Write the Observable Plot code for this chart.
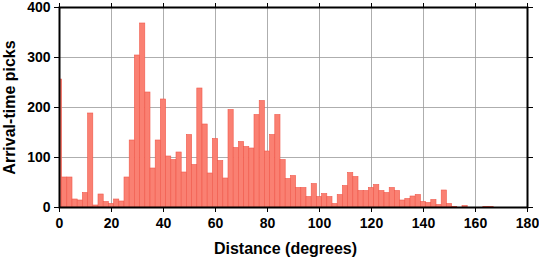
<!DOCTYPE html>
<html>
<head>
<meta charset="utf-8">
<script src="https://cdn.jsdelivr.net/npm/d3@7"></script>
<script src="https://cdn.jsdelivr.net/npm/@observablehq/plot@0.6"></script>
<style>
  html, body { margin: 0; padding: 0; background: #fff; }
</style>
</head>
<body>
<div id="chart"></div>
<script>
// Bin centres (degrees), 2-degree bins
const binCenters = [0,2,4,6,8,10,12,14,16,18,20,22,24,26,28,30,32,34,36,38,40,42,44,46,48,50,52,54,56,58,60,62,64,66,68,70,72,74,76,78,80,82,84,86,88,90,92,94,96,98,100,102,104,106,108,110,112,114,116,118,120,122,124,126,128,130,132,134,136,138,140,142,144,146,148,150,152,154,156,158,160,162,164,166,168,170,172,174,176,178,180];
// Arrival-time pick counts per bin
const pickCounts = [256,60,60,16,14,29,188,4,26,11,7,16,12,60,134,304,368,230,78,134,216,102,95,110,70,145,85,238,166,68,137,93,58,195,119,131,121,118,185,213,112,145,185,95,57,63,39,39,21,47,21,27,21,7,25,43,69,61,33,33,39,45,33,29,39,33,14,17,22,25,11,9,15,5,34,7,1,0,3,0,0,0,1,1,0,0,0,0,0,0,0];
const binWidth = 2;
const xTicks = [0,20,40,60,80,100,120,140,160,180];
const yTicks = [0,100,200,300,400];
const xTitle = "Distance (degrees)";
const yTitle = "Arrival-time picks";

const data = binCenters.map((c, i) => ({c, n: pickCounts[i]}));

const chart = Plot.plot({
  width: 539,
  height: 258,
  marginLeft: 59,
  marginRight: 12,
  marginTop: 7,
  marginBottom: 51,
  style: {fontFamily: "'Liberation Sans', Arial, sans-serif", fontSize: "14px", fontWeight: "bold", background: "#fff", color: "#000"},
  x: {domain: [0, 180]},
  y: {domain: [0, 400]},
  marks: [
    Plot.gridX(xTicks, {stroke: "#999", strokeOpacity: 1, strokeWidth: 0.8}),
    Plot.gridY(yTicks, {stroke: "#999", strokeOpacity: 1, strokeWidth: 0.8}),
    Plot.rectY(data, {
      x1: d => d.c - binWidth / 2,
      x2: d => d.c + binWidth / 2,
      y1: 0,
      y2: "n",
      fill: "#fa8072",
      stroke: "#f0584a",
      strokeWidth: 0.6,
      clip: true
    }),
    Plot.axisX(xTicks, {anchor: "bottom", tickSize: 5, tickPadding: 6, label: null, strokeWidth: 1}),
    Plot.axisX(xTicks, {anchor: "top", tickSize: 5, tickFormat: null, label: null, text: null, strokeWidth: 1}),
    Plot.axisY(yTicks, {anchor: "left", tickSize: 5, tickPadding: 4, label: null, strokeWidth: 1}),
    Plot.axisY(yTicks, {anchor: "right", tickSize: 5, tickFormat: null, label: null, text: null, strokeWidth: 1}),
    Plot.frame({stroke: "#000", strokeWidth: 2}),
    Plot.text([xTitle], {frameAnchor: "bottom", lineAnchor: "bottom", textAnchor: "middle", dy: 46, dx: -8, fontSize: 16, fontWeight: "bold", fill: "#000"}),
    Plot.text([yTitle], {frameAnchor: "left", lineAnchor: "bottom", textAnchor: "middle", rotate: -90, dx: -45, fontSize: 16, fontWeight: "bold", fill: "#000"})
  ]
});
document.getElementById("chart").appendChild(chart);
</script>
</body>
</html>
